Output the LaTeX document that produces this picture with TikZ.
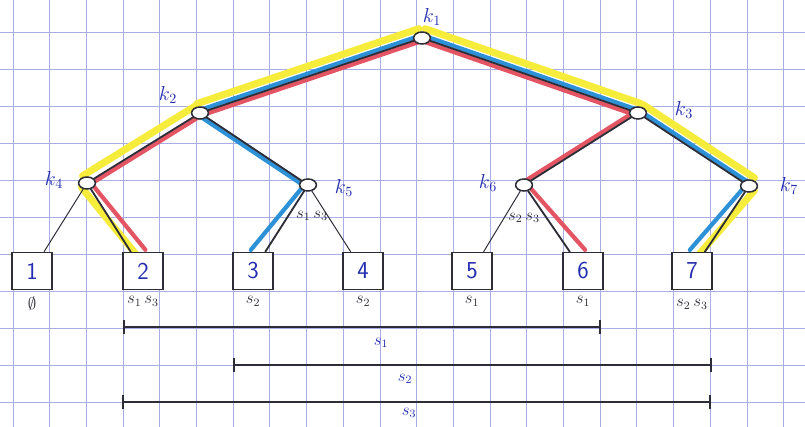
\documentclass[tikz,border=0pt]{standalone}
\usetikzlibrary{arrows.meta, positioning, calc, backgrounds, shapes.geometric}
\definecolor{gridblue}{RGB}{168,174,228}
\definecolor{inkblue}{RGB}{35,45,175}
\definecolor{ink}{RGB}{45,45,55}
\definecolor{hlyellow}{RGB}{246,236,60}
\definecolor{hlred}{RGB}{228,85,100}
\definecolor{hlblue}{RGB}{45,145,215}
\tikzset{
  knode/.style={draw=ink, ellipse, fill=white, line width=1.1pt, minimum width=0.42cm, minimum height=0.3cm, inner sep=0pt},
  leaf/.style={draw=ink, fill=white, line width=1.2pt, minimum width=1.0cm, minimum height=0.92cm, font=\sffamily\LARGE, text=inkblue},
  klabel/.style={text=inkblue, font=\Large},
  slabel/.style={text=ink, font=\large},
  seglabel/.style={text=inkblue, font=\large},
  edge/.style={draw=ink, line width=1.3pt, line cap=round},
  thinedge/.style={draw=ink, line width=0.7pt},
  seg/.style={draw=ink, line width=1.2pt, {Bar[width=3.5mm]}-{Bar[width=3.5mm]}},
  gridline/.style={draw=gridblue, line width=0.6pt},
  hl/.style={draw=#1, line width=3pt, line cap=round},
  hlwide/.style={draw=#1, line width=5pt, line cap=round},
}
% colour stripe beside an edge: style, offset, from, to
\newcommand{\stripe}[4]{%
  \draw[#1] ($(#3)!#2!90:(#4)$) -- ($(#4)!#2!-90:(#3)$);}

\begin{document}
\begin{tikzpicture}[x=0.025cm, y=-0.025cm]
  \useasboundingbox (0,0) rectangle (805,427);

  % tree nodes
  \node[knode] (k1) at (422,38) {};
  \node[knode] (k2) at (200,113) {};
  \node[knode] (k3) at (638,113) {};
  \node[knode] (k4) at (87,183) {};
  \node[knode] (k5) at (308,185) {};
  \node[knode] (k6) at (524,185) {};
  \node[knode] (k7) at (749,186) {};

  \node[klabel] (kl1) at (432,17) {$k_1$};
  \node[klabel] (kl2) at (168,95) {$k_2$};
  \node[klabel] (kl3) at (684,110) {$k_3$};
  \node[klabel] (kl4) at (54,180) {$k_4$};
  \node[klabel] (kl5) at (344,188) {$k_5$};
  \node[klabel] (kl6) at (488,183) {$k_6$};
  \node[klabel] (kl7) at (789,186) {$k_7$};

  \node[slabel] (set5) at (312,216) {$s_1\,s_3$};
  \node[slabel] (set6) at (524,218) {$s_2\,s_3$};

  % leaves
  \node[leaf] (b1) at (32,271) {1};
  \node[leaf] (b2) at (143,271) {2};
  \node[leaf] (b3) at (253,271) {3};
  \node[leaf] (b4) at (363,271) {4};
  \node[leaf] (b5) at (472,271) {5};
  \node[leaf] (b6) at (583,271) {6};
  \node[leaf] (b7) at (692,271) {7};

  \node[slabel, below=1pt of b1] (l1) {$\emptyset$};
  \node[slabel, below=1pt of b2] (l2) {$s_1\,s_3$};
  \node[slabel, below=1pt of b3] (l3) {$s_2$};
  \node[slabel, below=1pt of b4] (l4) {$s_2$};
  \node[slabel, below=1pt of b5] (l5) {$s_1$};
  \node[slabel, below=1pt of b6] (l6) {$s_1$};
  \node[slabel, below=3pt of b7] (l7) {$s_2\,s_3$};

  % segments
  \coordinate (s1l) at (123,327);
  \coordinate (s1r) at (601,327);
  \coordinate (s2l) at (233,365);
  \coordinate (s2r) at (712,365);
  \coordinate (s3l) at (122,402);
  \coordinate (s3r) at (711,402);
  \draw[seg] (s1l) -- (s1r);
  \draw[seg] (s2l) -- (s2r);
  \draw[seg] (s3l) -- (s3r);
  \node[seglabel] (sl1) at (381,343) {$s_1$};
  \node[seglabel] (sl2) at (405,379) {$s_2$};
  \node[seglabel] (sl3) at (409,413) {$s_3$};

  \begin{scope}[on background layer]
    \fill[white] (0,0) rectangle (805,427);
    \foreach \gx in {0,...,21}
      \draw[gridline] ({13+36.7*\gx},0) -- ({13+36.7*\gx},427);
    \foreach \gy in {0,...,10}
      \draw[gridline] (0,{32+37*\gy}) -- (805,{32+37*\gy});

    % s3 (yellow)
    \stripe{hlwide=hlyellow}{-7pt}{k1}{k2}
    \stripe{hlwide=hlyellow}{-6pt}{k2}{k4}
    \stripe{hlwide=hlyellow}{-5pt}{k4}{b2.north}
    \stripe{hlwide=hlyellow}{7pt}{k1}{k3}
    \stripe{hlwide=hlyellow}{7pt}{k3}{k7}
    \stripe{hlwide=hlyellow}{5pt}{k7}{b7.north}
    % s1 (red)
    \stripe{hl=hlred}{2pt}{k1}{k2}
    \stripe{hl=hlred}{2pt}{k2}{k4}
    \stripe{hl=hlred}{2.2pt}{k4}{b2.north}
    \stripe{hl=hlred}{-2pt}{k1}{k3}
    \stripe{hl=hlred}{-2pt}{k3}{k6}
    \stripe{hl=hlred}{2pt}{k6}{b6.north}
    % s2 (blue)
    \stripe{hl=hlblue}{-2pt}{k1}{k2}
    \stripe{hl=hlblue}{-2pt}{k2}{k5}
    \stripe{hl=hlblue}{-2pt}{k5}{b3.north}
    \stripe{hl=hlblue}{2pt}{k1}{k3}
    \stripe{hl=hlblue}{2pt}{k3}{k7}
    \stripe{hl=hlblue}{-2pt}{k7}{b7.north}

    % edges
    \draw[edge] (k1) -- (k2);
    \draw[edge] (k1) -- (k3);
    \draw[edge] (k2) -- (k4);
    \draw[edge] (k2) -- (k5);
    \draw[edge] (k3) -- (k6);
    \draw[edge] (k3) -- (k7);
    \draw[thinedge] (k4) -- (b1);
    \draw[edge] (k4) -- (b2);
    \draw[edge] (k5) -- (b3);
    \draw[thinedge] (k5) -- (b4);
    \draw[thinedge] (k6) -- (b5);
    \draw[edge] (k6) -- (b6);
    \draw[edge] (k7) -- (b7);
  \end{scope}
\end{tikzpicture}
\end{document}
